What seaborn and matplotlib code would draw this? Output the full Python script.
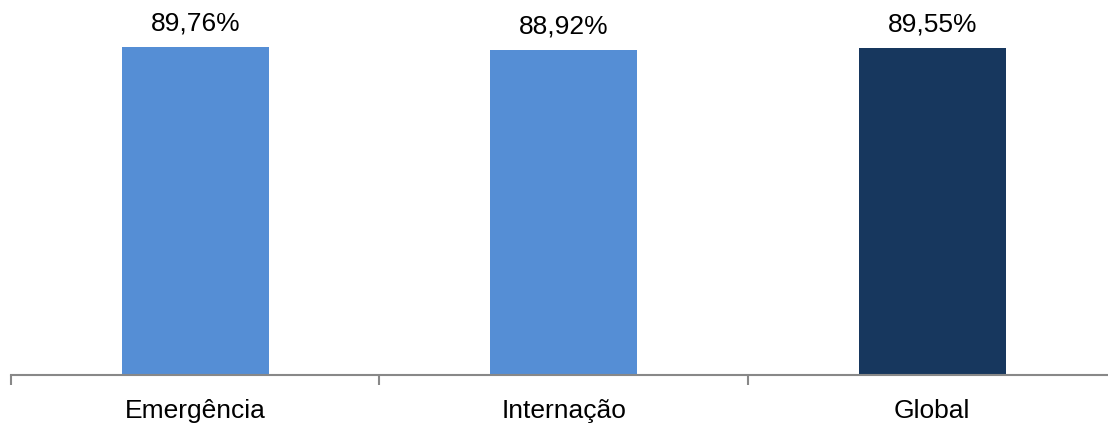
import matplotlib
matplotlib.use("Agg")
import matplotlib.pyplot as plt
import seaborn as sns
import pandas as pd

# chart data
categorias = ["Emergência", "Internação", "Global"]
valores = [89.76, 88.92, 89.55]
cores = ["#558ED5", "#558ED5", "#17375E"]

df = pd.DataFrame({"categoria": categorias, "valor": valores})

sns.set_style("white")
plt.rcParams["font.family"] = ["Liberation Sans", "DejaVu Sans"]

fig = plt.figure(figsize=(11.08, 4.23), dpi=100)
ax = fig.add_axes([11 / 1108, 48 / 423, 1097 / 1108, 375 / 423])

sns.barplot(data=df, x="categoria", y="valor", hue="categoria",
            palette=cores, width=0.4, legend=False, ax=ax, saturation=1,
            linewidth=0)

# value labels with comma as decimal mark
rotulos = [f"{v:.2f}%".replace(".", ",") for v in valores]
for cont, rot in zip(ax.containers, rotulos):
    ax.bar_label(cont, labels=[rot], padding=8, fontsize=19, color="black")

ax.set_xlabel("")
ax.set_ylabel("")
ax.set_yticks([])

# ticks between categories
ax.set_xticks([0, 1, 2])
ax.set_xticklabels(categorias, fontsize=19, color="black")
ax.set_xticks([-0.5, 0.5, 1.5], minor=True)
ax.tick_params(axis="x", which="major", length=0, pad=17)
ax.tick_params(axis="x", which="minor", length=7, width=1.5, color="#888888",
               direction="out", bottom=True)

# set limits last, set_xticks widens them
ax.set_xlim(-0.5, 2.477)
ax.set_ylim(0, 102.6)

for s in ["top", "right", "left"]:
    ax.spines[s].set_visible(False)
ax.spines["bottom"].set_color("#888888")
ax.spines["bottom"].set_linewidth(1.5)

fig.savefig("out.png", dpi=100)
